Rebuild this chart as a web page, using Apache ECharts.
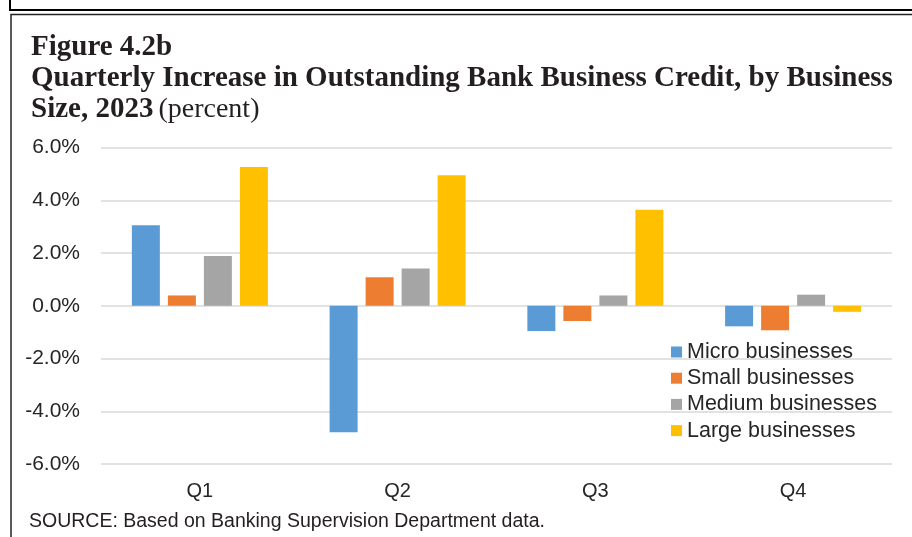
<!DOCTYPE html>
<html style="height: 100%">
<head>
<meta charset="UTF-8">
<title>Figure 4.2b</title>
<script src="https://cdn.jsdelivr.net/npm/echarts@6/dist/echarts.min.js"></script>
</head>
<body style="height: 100%; margin: 0; background: #fff">
<div id="container" style="width: 912px; height: 537px"></div>
<script type="text/javascript">
// values (percent)
var quarters = ['Q1', 'Q2', 'Q3', 'Q4'];
var seriesNames = ['Micro businesses', 'Small businesses', 'Medium businesses', 'Large businesses'];
var micro = [3.05, -4.8, -0.96, -0.78];
var small = [0.39, 1.08, -0.58, -0.93];
var medium = [1.89, 1.41, 0.39, 0.42];
var large = [5.26, 4.95, 3.64, -0.23];
var colors = ['#5B9BD5', '#ED7D31', '#A5A5A5', '#FFC000'];

var dom = document.getElementById("container");
var myChart = echarts.init(dom);
var values = [micro, small, medium, large];
var series = [];
for (var i = 0; i < seriesNames.length; i++) {
  series.push({
    name: seriesNames[i],
    type: 'bar',
    data: values[i],
    barWidth: 28,
    barGap: '28.6%',
    itemStyle: { color: colors[i] }
  });
}

var option = {
  animation: false,
  color: colors,
  title: [{
    left: 31,
    top: 32,
    padding: 0,
    text: '{b|Figure 4.2b}\n{b|Quarterly Increase in Outstanding Bank Business Credit, by Business}\n{b|Size, 2023} {n|(percent)}',
    textStyle: {
      rich: {
        b: { fontFamily: 'Liberation Serif', fontWeight: 'bold', fontSize: 29, lineHeight: 31, color: '#231f20' },
        n: { fontFamily: 'Liberation Serif', fontWeight: 'normal', fontSize: 28, lineHeight: 31, color: '#231f20' }
      }
    }
  }, {
    left: 29,
    top: 512,
    padding: 0,
    text: 'SOURCE: Based on Banking Supervision Department data.',
    textStyle: { fontFamily: 'Liberation Sans', fontWeight: 'normal', fontSize: 19.5, color: '#231f20' }
  }],
  graphic: [
    { type: 'rect', shape: { x: 10, y: -10, width: 950, height: 20 }, style: { fill: 'none', stroke: '#000', lineWidth: 2 } },
    { type: 'rect', shape: { x: 11, y: 14.5, width: 950, height: 560 }, style: { fill: 'none', stroke: '#222', lineWidth: 1.5 } }
  ],
  legend: {
    orient: 'vertical',
    left: 671,
    top: 341,
    padding: 0,
    itemWidth: 11,
    itemHeight: 11,
    itemGap: 4.2,
    icon: 'rect',
    textStyle: { fontFamily: 'Liberation Sans', fontSize: 21.5, lineHeight: 20, color: '#262626' },
    data: seriesNames
  },
  grid: { left: 101, right: 20, top: 147.5, bottom: 73 },
  xAxis: {
    type: 'category',
    data: quarters,
    axisLine: { show: false, onZero: false },
    axisTick: { show: false },
    axisLabel: { fontFamily: 'Liberation Sans', fontSize: 20, color: '#262626', margin: 17 }
  },
  yAxis: {
    type: 'value',
    min: -6,
    max: 6,
    interval: 2,
    axisLine: { show: false },
    axisTick: { show: false },
    splitLine: { lineStyle: { color: '#d9d9d9', width: 1.5 } },
    axisLabel: {
      fontFamily: 'Liberation Sans', fontSize: 21, color: '#262626', margin: 21,
      formatter: function (v) { return v.toFixed(1) + '%'; }
    }
  },
  series: series
};
myChart.setOption(option, true);
</script>
</body>
</html>
